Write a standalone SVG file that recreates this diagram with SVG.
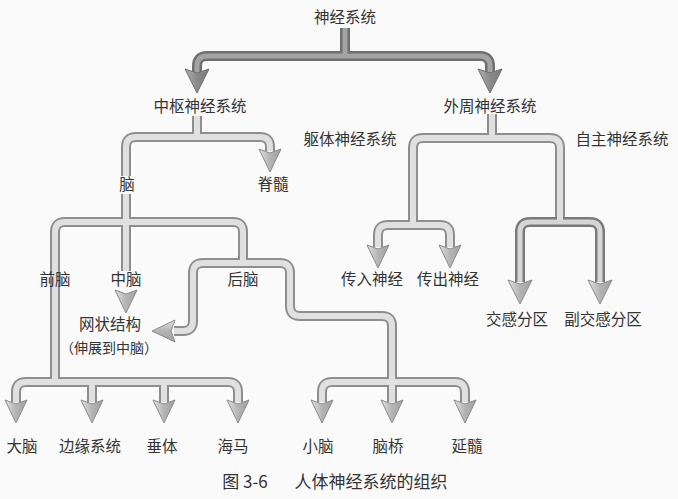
<svg xmlns="http://www.w3.org/2000/svg" xmlns:xlink="http://www.w3.org/1999/xlink" width="678" height="499" viewBox="0 0 678 499">
<style>
text{font-family:"Noto Sans CJK SC","Noto Sans",sans-serif;fill:#333;text-anchor:middle;font-size:15.5px}
.cap{font-size:17px}
.po{fill:none;stroke:#8e8e8e;stroke-width:10;stroke-linejoin:round}
.pi{fill:none;stroke:#e0e0e0;stroke-width:6;stroke-linejoin:round}
.ao{fill:none;stroke:#7a7a7a;stroke-width:10;stroke-linejoin:round}
.ai{fill:none;stroke:#d6d6d6;stroke-width:5;stroke-linejoin:round}
.do{fill:none;stroke:#6f6f6f;stroke-width:10;stroke-linejoin:round}
.di{fill:none;stroke:#a3a3a3;stroke-width:5;stroke-linejoin:round}
.ah{fill:url(#g1);stroke:#8c8c8c;stroke-width:1}
.ahd{fill:url(#g2);stroke:#6f6f6f;stroke-width:1}
</style>
<defs>
<linearGradient id="g1" x1="0" y1="0" x2="1" y2="0"><stop offset="0" stop-color="#e0e0e0"/><stop offset="0.5" stop-color="#b4b4b4"/><stop offset="1" stop-color="#a0a0a0"/></linearGradient>
<linearGradient id="g2" x1="0" y1="0" x2="1" y2="0"><stop offset="0" stop-color="#b0b0b0"/><stop offset="0.5" stop-color="#8a8a8a"/><stop offset="1" stop-color="#7a7a7a"/></linearGradient>
<path id="a" d="M-11,-23 L0,0 L11,-23 L0,-19 Z"/>
<path id="ab" d="M-12,-24 L0,0 L12,-24 L0,-20 Z"/>
<path id="p1" d="M345,28 V56"/>
<path id="p2" d="M197,73 V66 Q197,56 207,56 H480 Q490,56 490,66 V73"/>
<path id="p3" d="M197,116 V137"/>
<path id="p4" d="M126,176 V147 Q126,137 136,137 H260 Q270,137 270,147 V151"/>
<path id="p5" d="M126,194 V271"/>
<path id="p6" d="M55,382 V232 Q55,222 65,222 H233 Q243,222 243,232 V263"/>
<path id="p7" d="M174,331 H183 Q193,331 193,321 V273 Q193,263 203,263 H280 Q290,263 290,273 V306 Q290,316 300,316 H382 Q392,316 392,326 V402"/>
<path id="p8" d="M322,402 V392 Q322,382 332,382 H455 Q465,382 465,392 V402"/>
<path id="p9" d="M16,402 V392 Q16,382 26,382 H228 Q238,382 238,392 V402 M92,382 V402 M164,382 V402"/>
<path id="p10" d="M492,114 V138"/>
<path id="p11" d="M413,225 V148 Q413,138 423,138 H550 Q560,138 560,148 V222"/>
<path id="p12" d="M378,247 V235 Q378,225 388,225 H440 Q450,225 450,235 V247"/>
<path id="p13" d="M520,282 V232 Q520,222 530,222 H590 Q600,222 600,232 V282"/>
</defs>
<rect width="678" height="499" fill="#fafafa"/>
<g id="connectors">
<use xlink:href="#p1" class="do"/><use xlink:href="#p2" class="do"/>
<use xlink:href="#p1" class="di"/><use xlink:href="#p2" class="di"/>
<use xlink:href="#p3" class="po"/><use xlink:href="#p4" class="po"/><use xlink:href="#p5" class="po"/><use xlink:href="#p6" class="po"/><use xlink:href="#p7" class="po"/><use xlink:href="#p8" class="po"/><use xlink:href="#p9" class="po"/><use xlink:href="#p10" class="po"/><use xlink:href="#p11" class="po"/><use xlink:href="#p12" class="po"/>
<use xlink:href="#p13" class="ao"/>
<use xlink:href="#p3" class="pi"/><use xlink:href="#p4" class="pi"/><use xlink:href="#p5" class="pi"/><use xlink:href="#p6" class="pi"/><use xlink:href="#p7" class="pi"/><use xlink:href="#p8" class="pi"/><use xlink:href="#p9" class="pi"/><use xlink:href="#p10" class="pi"/><use xlink:href="#p11" class="pi"/><use xlink:href="#p12" class="pi"/>
<use xlink:href="#p13" class="ai"/>
<use xlink:href="#ab" class="ahd" transform="translate(197,93)"/>
<use xlink:href="#ab" class="ahd" transform="translate(490,93)"/>
<use xlink:href="#a" class="ah" transform="translate(270,172)"/>
<use xlink:href="#a" class="ah" transform="translate(126,313)"/>
<use xlink:href="#a" class="ah" transform="translate(152,331) rotate(90)"/>
<use xlink:href="#a" class="ah" transform="translate(16,423)"/>
<use xlink:href="#a" class="ah" transform="translate(92,423)"/>
<use xlink:href="#a" class="ah" transform="translate(164,423)"/>
<use xlink:href="#a" class="ah" transform="translate(238,423)"/>
<use xlink:href="#a" class="ah" transform="translate(322,423)"/>
<use xlink:href="#a" class="ah" transform="translate(392,423)"/>
<use xlink:href="#a" class="ah" transform="translate(465,423)"/>
<use xlink:href="#a" class="ah" transform="translate(378,268)"/>
<use xlink:href="#a" class="ah" transform="translate(450,268)"/>
<use xlink:href="#ab" class="ah" transform="translate(520,304)"/>
<use xlink:href="#ab" class="ah" transform="translate(600,304)"/>
</g>
<g id="n-root"><text x="345" y="23">神经系统</text></g>
<g id="n-cns"><text x="200" y="112">中枢神经系统</text></g>
<g id="n-pns"><text x="490" y="112">外周神经系统</text></g>
<g id="n-somatic"><text x="350" y="145">躯体神经系统</text></g>
<g id="n-autonomic"><text x="622" y="145">自主神经系统</text></g>
<g id="n-spinal"><text x="273" y="190">脊髓</text></g>
<g id="n-brain"><text x="127" y="190">脑</text></g>
<g id="n-forebrain"><text x="55" y="285">前脑</text></g>
<g id="n-midbrain"><text x="126" y="285">中脑</text></g>
<g id="n-hindbrain"><text x="243" y="285">后脑</text></g>
<g id="n-reticular"><text x="110" y="330">网状结构</text><text x="109" y="353" style="font-size:14px">（伸展到中脑）</text></g>
<g id="n-afferent"><text x="372" y="285">传入神经</text></g>
<g id="n-efferent"><text x="448" y="285">传出神经</text></g>
<g id="n-sym"><text x="517" y="325">交感分区</text></g>
<g id="n-para"><text x="603" y="325">副交感分区</text></g>
<g id="n-cerebrum"><text x="22" y="452">大脑</text></g>
<g id="n-limbic"><text x="90" y="452">边缘系统</text></g>
<g id="n-pituitary"><text x="162" y="452">垂体</text></g>
<g id="n-hippo"><text x="233" y="452">海马</text></g>
<g id="n-cerebellum"><text x="318" y="452">小脑</text></g>
<g id="n-pons"><text x="388" y="452">脑桥</text></g>
<g id="n-medulla"><text x="467" y="452">延髓</text></g>
<g id="caption"><text class="cap" x="245" y="488">图 3-6</text><text class="cap" x="371" y="488">人体神经系统的组织</text></g>
</svg>
